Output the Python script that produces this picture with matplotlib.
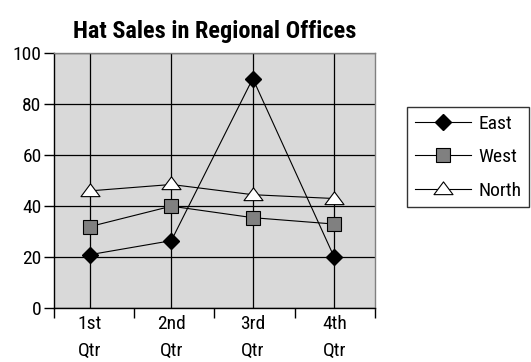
import matplotlib
matplotlib.use('Agg')
import matplotlib.pyplot as plt
from matplotlib.path import Path

plt.rcParams['font.family'] = ['Roboto Condensed', 'Liberation Sans Narrow', 'Liberation Sans', 'DejaVu Sans']

# data
quarters = ['1st\nQtr', '2nd\nQtr', '3rd\nQtr', '4th\nQtr']
east = [21, 26.5, 90, 20]
west = [32, 40, 35.5, 33]
north = [46, 48.5, 44.5, 43]

# wide flat triangle like the original
tri = Path([(0, 0.8), (-1, -0.54), (1, -0.54), (0, 0.8)],
           [Path.MOVETO, Path.LINETO, Path.LINETO, Path.CLOSEPOLY])

fig = plt.figure(figsize=(5.31, 3.62), dpi=100)
ax = fig.add_axes([0.1017, 0.1483, 0.6045, 0.7053])
ax.set_facecolor('#d9d9d9')

x = range(len(quarters))
ax.plot(x, east, color='black', lw=0.8, marker='D', markersize=8.2,
        markerfacecolor='black', markeredgecolor='black', label='East')
ax.plot(x, west, color='black', lw=0.8, marker='s', markersize=9.5,
        markerfacecolor='#808080', markeredgecolor='black', markeredgewidth=0.8, label='West')
ax.plot(x, north, color='black', lw=0.8, marker=tri, markersize=13.7,
        markerfacecolor='white', markeredgecolor='black', markeredgewidth=0.8, label='North')

ax.set_xlim(-0.44, 3.5)
ax.set_ylim(0, 100)
ax.set_yticks(range(0, 101, 20))
ax.set_xticks(list(x))
ax.set_xticklabels(quarters, fontsize=14, linespacing=1.65)
ax.set_xticks([-0.44, 0.545, 1.53, 2.52, 3.5], minor=True)
ax.tick_params(axis='x', which='major', length=0, pad=5)
ax.tick_params(axis='x', which='minor', length=7, width=1, direction='out')
ax.tick_params(axis='y', length=7, width=1, labelsize=14, pad=2)
ax.grid(True, color='black', lw=0.9)
ax.set_axisbelow(True)

for s in ['left', 'bottom']:
    ax.spines[s].set_color('black')
    ax.spines[s].set_linewidth(1)
for s in ['right', 'top']:
    ax.spines[s].set_color('#808080')
    ax.spines[s].set_linewidth(1)

ax.set_title('Hat Sales in Regional Offices', fontsize=17.5, fontweight='bold', pad=11)

leg = fig.legend(loc='upper left', bbox_to_anchor=(0.766, 0.705), fontsize=14,
                 frameon=True, fancybox=False, handlelength=2.9, handletextpad=0.4,
                 borderpad=0.4, labelspacing=0.8, borderaxespad=0)
leg.get_frame().set_edgecolor('black')
leg.get_frame().set_linewidth(1)

fig.savefig('out.png', dpi=100)
